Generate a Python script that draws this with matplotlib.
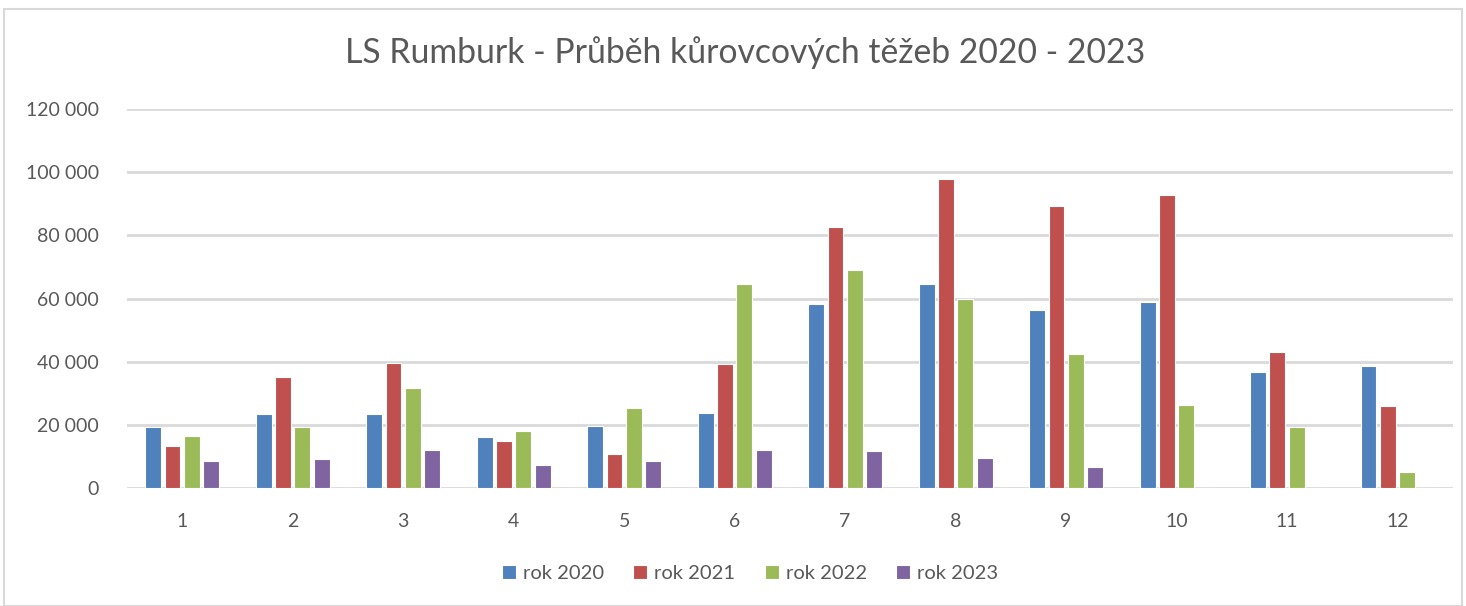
import numpy as np
import matplotlib.pyplot as plt
from matplotlib.patches import Rectangle
from matplotlib.ticker import FuncFormatter

# months and yearly values
months = ['1', '2', '3', '4', '5', '6', '7', '8', '9', '10', '11', '12']
rok_2020 = [19200, 23400, 23400, 16000, 19700, 23800, 58400, 64500, 56400, 58800, 36800, 38500]
rok_2021 = [13300, 35200, 39700, 14900, 10800, 39300, 82700, 97700, 89200, 92900, 43000, 25900]
rok_2022 = [16500, 19200, 31600, 18100, 25400, 64500, 68900, 59900, 42400, 26300, 19300, 5200]
rok_2023 = [8400, 9200, 12000, 7200, 8400, 12000, 11700, 9600, 6800, 0, 0, 0]
series = ['rok 2020', 'rok 2021', 'rok 2022', 'rok 2023']
colors = ['#4f81bd', '#c0504d', '#9bbb59', '#8064a2']

plt.rcParams['font.family'] = ['Lato', 'DejaVu Sans']

fig = plt.figure(figsize=(14.66, 6.06), dpi=100)
ax = fig.add_axes([0.0866, 0.1947, 0.9044, 0.6253])

# outer chart frame
fig.patches.append(Rectangle((0.003, 0.0), 0.994, 0.985, transform=fig.transFigure,
                             fill=False, edgecolor='#d9d9d9', lw=1.5))

x = np.arange(len(months))
w = 0.175
for i, (vals, lab, c) in enumerate(zip([rok_2020, rok_2021, rok_2022, rok_2023], series, colors)):
    ax.bar(x + (i - 1.5) * w, vals, width=w * 0.82, color=c, label=lab,
           edgecolor='white', linewidth=0.8, zorder=3)

ax.set_xlim(-0.5, len(months) - 0.5)
ax.set_ylim(0, 120000)
ax.set_yticks(np.arange(0, 120001, 20000))
ax.yaxis.set_major_formatter(FuncFormatter(lambda v, p: f'{int(v):,}'.replace(',', ' ')))
ax.set_xticks(x)
ax.set_xticklabels(months)
ax.grid(axis='y', color='#d9d9d9', lw=2, zorder=0)
for s in ['top', 'right', 'left', 'bottom']:
    ax.spines[s].set_visible(False)
ax.tick_params(length=0, labelsize=14, colors='#595959')
ax.tick_params(axis='x', pad=18)
ax.tick_params(axis='y', pad=20)

fig.suptitle('LS Rumburk - Průběh kůrovcových těžeb 2020 - 2023', x=0.508, y=0.94,
             fontsize=24.3, color='#595959')

ax.legend(loc='center', bbox_to_anchor=(0.47, -0.225), ncol=4, frameon=False,
          fontsize=14.5, handlelength=0.7, handleheight=0.7, handletextpad=0.35,
          columnspacing=1.45, labelcolor='#595959')

fig.savefig('out.png', dpi=100)
